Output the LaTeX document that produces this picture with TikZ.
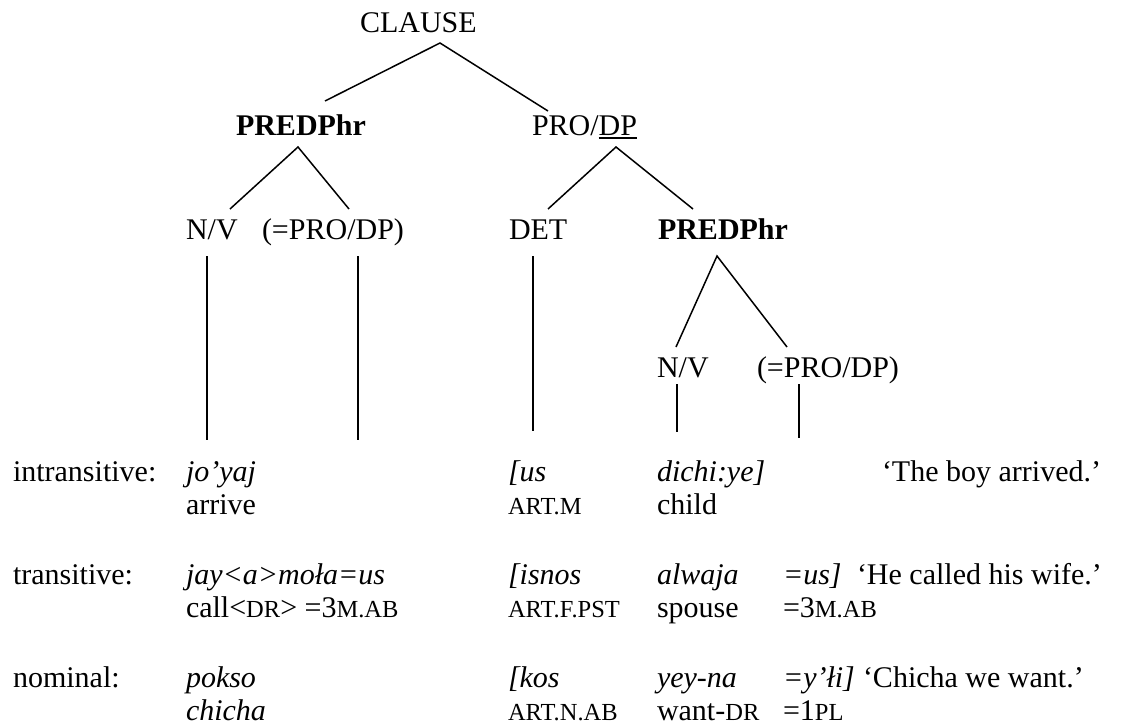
\documentclass[tikz,border=0pt]{standalone}
\usepackage{fontspec}
\setmainfont{Liberation Serif}
\newcommand\sca[1]{{\fontsize{24.5}{24.5}\selectfont #1}}
\newcommand\ulin[1]{\setbox0\hbox{#1}\rlap{\rule[-3.5pt]{\wd0}{1.6pt}}\box0}
\begin{document}
\begin{tikzpicture}[x=1pt,y=-1pt,
  every node/.style={inner sep=0pt, outer sep=0pt, anchor=base west, font=\fontsize{30}{36}\selectfont},
  branch/.style={line width=1.5pt, line cap=butt}]
\useasboundingbox (0,0) rectangle (1125,726);
% tree labels
\node (clause) at (360,32) {CLAUSE};
\node (pred1) at (236,135) {\bfseries PREDPhr};
\node (prodp) at (532,135) {PRO/\ulin{DP}};
\node (nv1) at (186,239) {N/V};
\node (pd1) at (262,239) {(=PRO/DP)};
\node (det) at (509,239) {DET};
\node (pred2) at (658,239) {\bfseries PREDPhr};
\node (nv2) at (657,377) {N/V};
\node (pd2) at (757,377) {(=PRO/DP)};
% branch end points
\coordinate (ctop) at (440,43);
\coordinate (cl) at (325,101);
\coordinate (cr) at (548,111);
\coordinate (p1top) at (298,147);
\coordinate (p1l) at (230,209);
\coordinate (p1r) at (349,209);
\coordinate (pdtop) at (616,147);
\coordinate (pdl) at (548,209);
\coordinate (pdr) at (693,209);
\coordinate (v1a) at (207,256); \coordinate (v1b) at (207,440);
\coordinate (v2a) at (358,256); \coordinate (v2b) at (358,440);
\coordinate (v3a) at (533,256); \coordinate (v3b) at (533,431);
\coordinate (p2top) at (717,256);
\coordinate (p2l) at (676,347);
\coordinate (p2r) at (787,347);
\coordinate (v4a) at (677,384); \coordinate (v4b) at (677,432);
\coordinate (v5a) at (799,384); \coordinate (v5b) at (799,438);
\draw[branch] (cl) -- (ctop) -- (cr);
\draw[branch] (p1l) -- (p1top) -- (p1r);
\draw[branch] (pdl) -- (pdtop) -- (pdr);
\draw[branch] (p2l) -- (p2top) -- (p2r);
\draw[branch] (v1a) -- (v1b);
\draw[branch] (v2a) -- (v2b);
\draw[branch] (v3a) -- (v3b);
\draw[branch] (v4a) -- (v4b);
\draw[branch] (v5a) -- (v5b);
% row 1
\node (alab) at (13,481) {intransitive:};
\node (a2) at (186,481) {\itshape jo’yaj};
\node (a2g) at (186,514) {arrive};
\node (a3) at (508,481) {\itshape [us};
\node (a3g) at (508,514) {\sca{ART.M}};
\node (a4) at (657,481) {\itshape dichi:ye]};
\node (a4g) at (657,514) {child};
\node (atr) at (882,481) {‘The boy arrived.’};
% row 2
\node (blab) at (13,584) {transitive:};
\node (b2) at (186,584) {\itshape jay<a>moła=us};
\node (b2g) at (186,617) {call<\sca{DR}> =3\sca{M.AB}};
\node (b3) at (508,584) {\itshape [isnos};
\node (b3g) at (508,617) {\sca{ART.F.PST}};
\node (b4) at (657,584) {\itshape alwaja};
\node (b4g) at (657,617) {spouse};
\node (b5) at (783,584) {\itshape =us]};
\node (b5g) at (783,617) {=3\sca{M.AB}};
\node (btr) at (857,584) {‘He called his wife.’};
% row 3
\node (clab) at (13,687) {nominal:};
\node (c2) at (186,687) {\itshape pokso};
\node (c2g) at (186,720) {\itshape chicha};
\node (c3) at (508,687) {\itshape [kos};
\node (c3g) at (508,720) {\sca{ART.N.AB}};
\node (c4) at (657,687) {\itshape yey-na};
\node (c4g) at (657,720) {want-\sca{DR}};
\node (c5) at (783,687) {\itshape =y’łi]};
\node (c5g) at (783,720) {=1\sca{PL}};
\node (ctr) at (863,687) {‘Chicha we want.’};
\end{tikzpicture}
\end{document}
